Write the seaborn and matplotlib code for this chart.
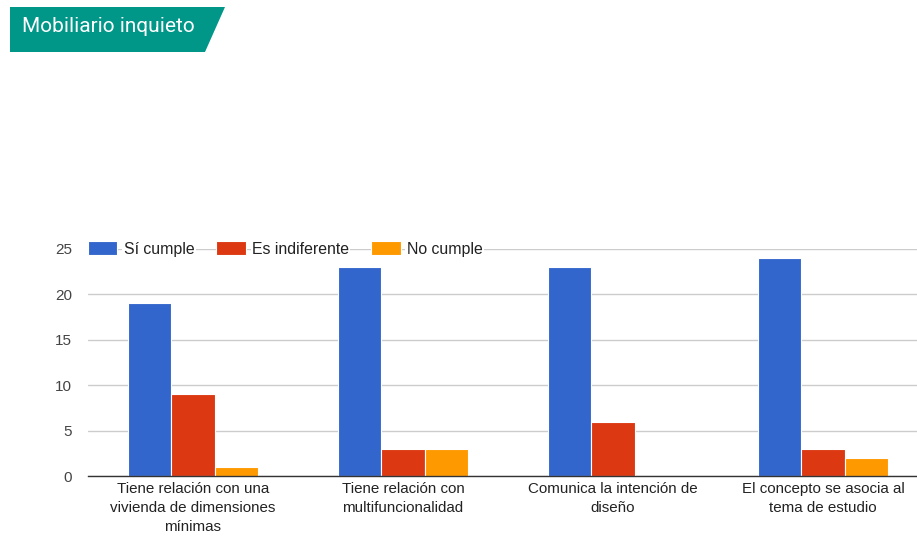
import matplotlib
matplotlib.use("Agg")
import matplotlib.pyplot as plt
from matplotlib.patches import Polygon
import seaborn as sns
import pandas as pd

categories = [
    "Tiene relación con una\nvivienda de dimensiones\nmínimas",
    "Tiene relación con\nmultifuncionalidad",
    "Comunica la intención de\ndiseño",
    "El concepto se asocia al\ntema de estudio",
]
series_names = ["Sí cumple", "Es indiferente", "No cumple"]
si_cumple = [19, 23, 23, 24]
es_indiferente = [9, 3, 6, 3]
no_cumple = [1, 3, 0, 2]
colors = ["#3366CC", "#DC3912", "#FF9900"]
yticks = [0, 5, 10, 15, 20, 25]
title = "Mobiliario inquieto"

rows = []
for name, vals in zip(series_names, [si_cumple, es_indiferente, no_cumple]):
    for c, v in zip(categories, vals):
        rows.append({"cat": c, "serie": name, "valor": v})
df = pd.DataFrame(rows)

sns.set_theme(style="white")
plt.rcParams["font.family"] = ["Liberation Sans", "DejaVu Sans"]

W, H = 917, 538
fig = plt.figure(figsize=(W / 100, H / 100), dpi=100)
ax = fig.add_axes([88 / W, 1 - 476 / H, (W - 88) / W, (476 - 249) / H])

sns.barplot(data=df, x="cat", y="valor", hue="serie", order=categories,
            hue_order=series_names, palette=colors, width=0.62,
            edgecolor="white", linewidth=0.8, saturation=1, ax=ax, zorder=3)

ax.set_ylim(0, 25)
ax.set_xlim(-0.5, 3.448)
ax.set_yticks(yticks)
ax.set_yticklabels([str(t) for t in yticks])
ax.yaxis.grid(True, color="#cccccc", linewidth=1, zorder=0)
ax.set_axisbelow(True)
ax.set_xlabel("")
ax.set_ylabel("")
for s in ["left", "right", "top"]:
    ax.spines[s].set_visible(False)
ax.spines["bottom"].set_color("#333333")
ax.spines["bottom"].set_linewidth(1)
ax.spines["bottom"].set_zorder(5)
ax.tick_params(axis="x", length=0, labelsize=10.9, colors="#222222", pad=4.5)
ax.tick_params(axis="y", length=0, labelsize=11, colors="#444444", pad=11.5)
for lbl in ax.get_xticklabels():
    lbl.set_linespacing(1.45)

handles, labels = ax.get_legend_handles_labels()
leg = ax.legend(handles, labels, loc="center left", bbox_to_anchor=(0.0, 1.0),
                ncol=3, frameon=False, fontsize=11.4, handlelength=1.85,
                handleheight=1.0, handletextpad=0.4, columnspacing=1.4,
                borderaxespad=0, borderpad=0)
for t in leg.get_texts():
    t.set_color("#222222")
    t.set_bbox(dict(facecolor="white", edgecolor="none", pad=1.0))

# Title banner
poly = Polygon([(10 / W, 1 - 7 / H), (225 / W, 1 - 7 / H),
                (205 / W, 1 - 52 / H), (10 / W, 1 - 52 / H)],
               closed=True, transform=fig.transFigure, facecolor="#009688",
               edgecolor="none")
fig.patches.append(poly)
fig.text(22 / W, 1 - 27 / H, title, color="white", fontsize=15,
         family=["Roboto", "DejaVu Sans"], va="center", ha="left")

fig.savefig("out.png", dpi=100, facecolor="white")
